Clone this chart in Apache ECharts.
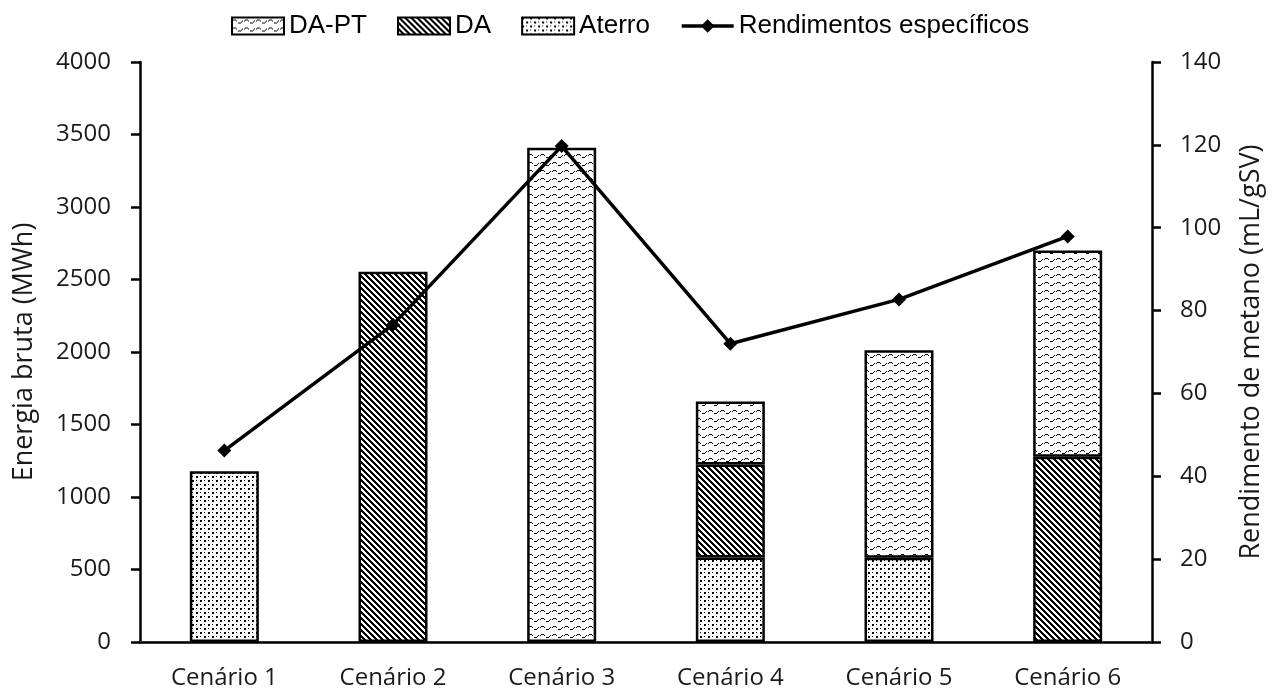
<!DOCTYPE html>
<html>
<head>
<meta charset="utf-8">
<script src="https://cdn.jsdelivr.net/npm/echarts@6/dist/echarts.min.js"></script>
<style>html,body{margin:0;padding:0;background:#fff}#c{width:1276px;height:693px}</style>
</head>
<body>
<div id="c"></div>
<script>
const categories = ['Cenário 1','Cenário 2','Cenário 3','Cenário 4','Cenário 5','Cenário 6'];
const aterro = [1178, null, null, 583, 581, null];
const da = [null, 2553, null, 641, null, 1277];
const dapt = [null, null, 3408, 435, 1431, 1423];
const rendimentos = [46.2, 76.6, 119.7, 72.0, 82.7, 97.9];
const legendNames = ['DA-PT','DA','Aterro','Rendimentos específicos'];

function makePattern(w, h, fn) {
  const c = document.createElement('canvas');
  c.width = w; c.height = h;
  const ctx = c.getContext('2d');
  ctx.fillStyle = '#fff'; ctx.fillRect(0, 0, w, h);
  ctx.fillStyle = '#000';
  for (let y = 0; y < h; y++) for (let x = 0; x < w; x++) if (fn(x, y)) ctx.fillRect(x, y, 1, 1);
  return { image: c, repeat: 'repeat' };
}
const patDA = makePattern(6, 6, (x, y) => ((x - y + 12) % 6) < 3);
const patAterro = makePattern(8, 8, (x, y) =>
  (x < 2 && y < 2) || (x >= 4 && x < 6 && y >= 4 && y < 6) || (x === 4 && y === 0) || (x === 0 && y === 4));
const waveY = [3,2,2,2,3,4,5,5,5,4,3,3];
const patDAPT = makePattern(12, 8, (x, y) => (waveY[x] === y && x % 6 !== 5) || (y === 2 && (x === 1 || x === 2)) || (y === 5 && (x === 7 || x === 8)));

const chart = echarts.init(document.getElementById('c'));
const FONT = 'Open Sans';
const barBase = { type: 'bar', stack: 'e', barWidth: 69, itemStyle: { borderColor: '#000', borderWidth: 2.5 } };
chart.setOption({
  animation: false,
  backgroundColor: '#fff',
  legend: {
    data: [
      { name: 'DA-PT', icon: 'rect' },
      { name: 'DA', icon: 'rect' },
      { name: 'Aterro', icon: 'rect' },
      { name: 'Rendimentos específicos' }
    ],
    top: 8, left: 226,
    itemWidth: 52, itemHeight: 17, itemGap: 30,
    lineStyle: { width: 3.5, color: '#000' },
    textStyle: { fontFamily: 'Liberation Sans', fontSize: 26, color: '#000' }
  },
  grid: { left: 140, right: 124, top: 62, bottom: 51 },
  xAxis: [
    { type: 'category', data: categories, position: 'bottom',
      axisLine: { lineStyle: { color: '#d9d9d9', width: 2 } },
      axisTick: { show: false },
      axisLabel: { fontFamily: FONT, fontSize: 24, color: '#1a1a1a', margin: 24 } },
    { type: 'category', data: categories, position: 'top',
      axisLine: { lineStyle: { color: '#000', width: 2.5 } },
      axisTick: { show: false }, axisLabel: { show: false } }
  ],
  yAxis: [
    { type: 'value', min: 0, max: 4000, interval: 500, position: 'left',
      name: 'Energia bruta (MWh)', nameLocation: 'middle', nameGap: 102,
      nameTextStyle: { fontFamily: FONT, fontSize: 27, color: '#1a1a1a' },
      axisLine: { show: true, lineStyle: { color: '#000', width: 2.5 } },
      axisTick: { show: true, length: 9, lineStyle: { color: '#000', width: 2.5 } },
      axisLabel: { fontFamily: FONT, fontSize: 24, color: '#1a1a1a', margin: 29, formatter: v => String(v) },
      splitLine: { show: false } },
    { type: 'value', min: 0, max: 140, interval: 20, position: 'right',
      name: 'Rendimento de metano (mL/gSV)', nameLocation: 'middle', nameGap: 86, nameRotate: 90,
      nameTextStyle: { fontFamily: FONT, fontSize: 27, color: '#1a1a1a' },
      axisLine: { show: true, lineStyle: { color: '#000', width: 2.5 } },
      axisTick: { show: true, length: 9, lineStyle: { color: '#000', width: 2.5 } },
      axisLabel: { fontFamily: FONT, fontSize: 24, color: '#1a1a1a', margin: 28, formatter: v => String(v) },
      splitLine: { show: false } }
  ],
  series: [
    Object.assign({}, barBase, { name: 'Aterro', data: aterro, itemStyle: Object.assign({}, barBase.itemStyle, { color: patAterro }) }),
    Object.assign({}, barBase, { name: 'DA', data: da, itemStyle: Object.assign({}, barBase.itemStyle, { color: patDA }) }),
    Object.assign({}, barBase, { name: 'DA-PT', data: dapt, itemStyle: Object.assign({}, barBase.itemStyle, { color: patDAPT }) }),
    { type: 'line', name: 'Rendimentos específicos', yAxisIndex: 1, data: rendimentos, z: 10,
      symbol: 'diamond', symbolSize: 14,
      lineStyle: { color: '#000', width: 3.5 },
      itemStyle: { color: '#000' } }
  ]
});
</script>
</body>
</html>
